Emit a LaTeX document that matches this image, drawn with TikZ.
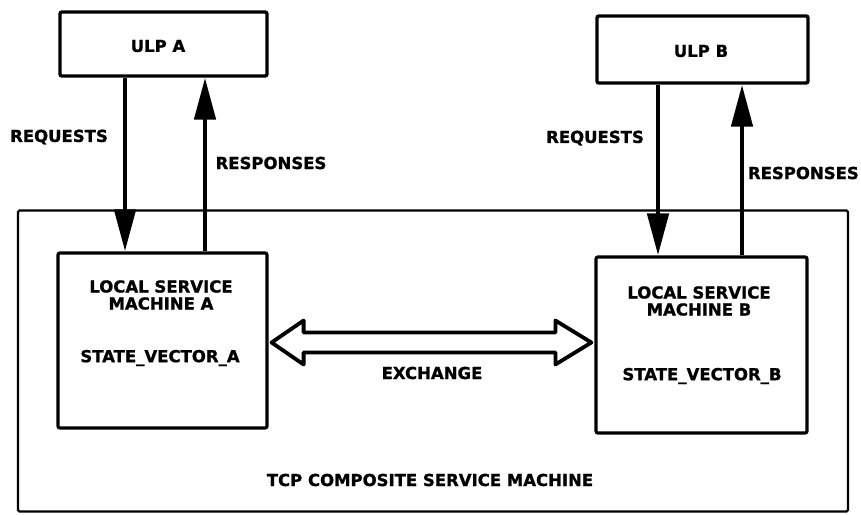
\documentclass[tikz,border=0pt]{standalone}
\usepackage{fontspec}
\setmainfont{DejaVu Sans}[BoldFeatures={FakeBold=1.2}]
\usetikzlibrary{arrows.meta,calc}
\begin{document}
\begin{tikzpicture}[x=1pt,y=-1pt,
  lbl/.style={font=\bfseries\fontsize{16.5}{17}\selectfont, inner sep=0pt, align=center},
  ulpbox/.style={draw, line width=3.4pt, rounded corners=2pt, inner sep=0pt},
  lsmbox/.style={draw, line width=3.2pt, rounded corners=2pt, inner sep=0pt},
  outerbox/.style={draw, line width=2.2pt, rounded corners=1.5pt, inner sep=0pt},
  flow/.style={line width=4.8pt, -{Triangle[length=42pt,width=21pt]}},
  dbl/.style={line width=3.8pt, line join=round, fill=white}
]
\useasboundingbox (0,0) rectangle (861,514);

% enclosing composite machine
\node[outerbox, minimum width=830pt, minimum height=301pt] (tcp) at (433,361) {};

% upper layer protocols
\node[ulpbox, minimum width=207pt, minimum height=64pt] (ulpA) at (163.5,44) {};
\node[ulpbox, minimum width=211pt, minimum height=67pt] (ulpB) at (702.5,49.5) {};

% local service machines
\node[lsmbox, minimum width=209pt, minimum height=175pt] (lsmA) at (162.5,340.5) {};
\node[lsmbox, minimum width=211pt, minimum height=176pt] (lsmB) at (701.5,345) {};

% box captions
\node[lbl] (tULPA) at (158,46) {ULP A};
\node[lbl] (tULPB) at (701,51) {ULP B};
\node[lbl] (tLSMA) at (161,295) {LOCAL SERVICE\\MACHINE A};
\node[lbl] (tSVA) at (160,358) {STATE\_VECTOR\_A};
\node[lbl] (tLSMB) at (699,301) {LOCAL SERVICE\\MACHINE B};
\node[lbl] (tSVB) at (702,376) {STATE\_VECTOR\_B};
\node[lbl] (tTCP) at (430,480) {TCP COMPOSITE SERVICE MACHINE};

% request / response flows
\coordinate (rqA) at (125,0);
\coordinate (rsA) at (205,0);
\coordinate (rqB) at (658,0);
\coordinate (rsB) at (742,0);
\draw[flow] (rqA |- ulpA.south) -- (rqA |- lsmA.north);
\draw[flow] (rsA |- lsmA.north) -- (rsA |- ulpA.south);
\draw[flow] (rqB |- ulpB.south) -- (rqB |- lsmB.north);
\draw[flow] (rsB |- lsmB.north) -- (rsB |- ulpB.south);

\node[lbl] (tRqA) at (59,137) {REQUESTS};
\node[lbl] (tRsA) at (271,163) {RESPONSES};
\node[lbl] (tRqB) at (595,138) {REQUESTS};
\node[lbl, anchor=east] (tRsB) at (859,173) {RESPONSES};

% two-way exchange arrow between the service machines
\coordinate (exL) at ($(lsmA.east)+(3,2)$);
\coordinate (exR) at ($(lsmB.west |- exL)+(-3,0)$);
\draw[dbl] (exL) -- ([shift={(32,-22)}]exL) -- ([shift={(32,-10)}]exL)
  -- ([shift={(-36,-10)}]exR) -- ([shift={(-36,-22)}]exR) -- (exR)
  -- ([shift={(-36,22)}]exR) -- ([shift={(-36,10)}]exR)
  -- ([shift={(32,10)}]exL) -- ([shift={(32,22)}]exL) -- cycle;
\node[lbl] (tEx) at (432,373) {EXCHANGE};
\end{tikzpicture}
\end{document}
